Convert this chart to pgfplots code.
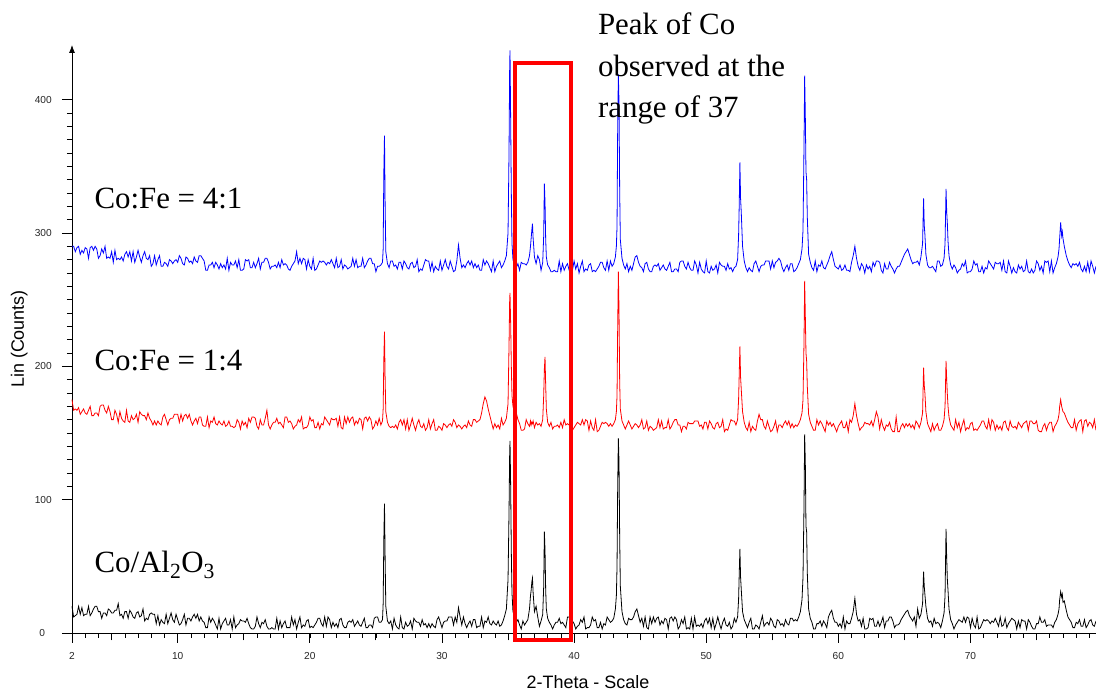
\documentclass[border=0pt]{standalone}
\usepackage{pgfplots}
\pgfplotsset{compat=1.18}
\usepackage{pgfplotstable}
\usetikzlibrary{arrows.meta}
\usepackage{fontspec}
\setmainfont{Liberation Serif}
\newfontfamily\arial{Liberation Sans}

\pgfplotstableread{
x k r b
2.000 20 175 290
2.125 12 167 290
2.250 13 168 286
2.375 14 167 289
2.500 20 169 290
2.625 14 164 284
2.750 19 166 287
2.875 13 168 285
3.000 14 165 289
3.125 14 164 288
3.250 20 167 281
3.375 13 170 289
3.500 15 163 290
3.625 18 163 287
3.750 20 165 290
3.875 20 165 288
4.000 16 163 281
4.125 16 170 283
4.250 11 171 288
4.375 15 171 285
4.500 15 167 290
4.625 13 165 281
4.750 18 170 282
4.875 17 166 281
5.000 15 160 286
5.125 15 160 278
5.250 17 167 287
5.375 17 164 280
5.500 22 158 281
5.625 13 166 280
5.750 14 161 282
5.875 11 159 279
6.000 16 158 284
6.125 16 167 286
6.250 11 159 282
6.375 17 158 286
6.500 15 163 279
6.625 12 160 286
6.750 11 161 278
6.875 15 164 282
7.000 16 158 287
7.125 12 166 282
7.250 13 164 278
7.375 18 163 283
7.500 9 163 286
7.625 11 160 281
7.750 10 165 280
7.875 14 161 283
8.000 15 159 275
8.125 14 156 277
8.250 14 159 283
8.375 7 156 276
8.500 13 159 280
8.625 6 157 283
8.750 10 156 275
8.875 8 162 275
9.000 7 164 278
9.125 14 160 277
9.250 7 156 275
9.375 11 160 280
9.500 15 161 279
9.625 10 161 277
9.750 8 164 279
9.875 14 164 280
10.000 10 164 278
10.125 6 158 283
10.250 7 164 281
10.375 10 159 277
10.500 14 163 276
10.625 6 164 282
10.750 11 161 281
10.875 11 164 278
11.000 9 159 279
11.125 12 156 277
11.250 14 159 282
11.375 11 161 279
11.500 14 157 278
11.625 9 162 283
11.750 12 162 283
11.875 9 156 281
12.000 8 155 279
12.125 4 155 272
12.250 4 162 272
12.375 12 154 276
12.500 8 159 276
12.625 11 158 278
12.750 9 162 274
12.875 6 157 278
13.000 3 156 276
13.125 11 159 273
13.250 3 157 277
13.375 7 156 274
13.500 9 159 276
13.625 11 155 273
13.750 6 156 281
13.875 6 159 272
14.000 10 155 278
14.125 3 155 276
14.250 12 154 276
14.375 4 155 279
14.500 6 160 274
14.625 7 158 280
14.750 10 153 272
14.875 9 159 272
15.000 9 156 273
15.125 8 158 280
15.250 11 154 279
15.375 7 161 280
15.500 4 158 274
15.625 3 162 274
15.750 3 162 278
15.875 5 161 274
16.000 12 155 277
16.125 7 153 281
16.250 4 160 273
16.375 8 156 278
16.500 7 156 278
16.625 10 161 281
16.750 5 167 281
16.875 3 156 278
17.000 3 153 273
17.125 4 156 275
17.250 3 158 275
17.375 3 158 276
17.500 11 161 274
17.625 3 157 278
17.750 9 158 274
17.875 4 156 280
18.000 7 154 276
18.125 9 162 277
18.250 4 162 276
18.375 4 158 273
18.500 4 159 272
18.625 12 157 275
18.750 6 153 277
18.875 10 155 279
19.000 3 156 286
19.125 8 160 277
19.250 12 158 281
19.375 4 162 277
19.500 6 153 281
19.625 5 154 280
19.750 9 154 273
19.875 10 156 280
20.000 4 162 275
20.125 5 159 273
20.250 4 160 281
20.375 6 154 272
20.500 8 154 273
20.625 11 158 276
20.750 11 153 279
20.875 7 157 278
21.000 5 156 279
21.125 12 162 278
21.250 5 160 276
21.375 12 158 278
21.500 10 156 277
21.625 4 161 280
21.750 8 160 277
21.875 5 160 274
22.000 7 161 281
22.125 4 155 274
22.250 10 162 275
22.375 11 154 280
22.500 6 153 273
22.625 4 162 276
22.750 4 157 275
22.875 8 162 273
23.000 9 158 274
23.125 8 161 275
23.250 10 162 281
23.375 5 156 275
23.500 7 159 280
23.625 9 157 274
23.750 6 161 275
23.875 5 160 275
24.000 8 153 281
24.125 11 161 274
24.250 4 162 276
24.375 4 159 279
24.500 6 162 281
24.625 6 160 281
24.750 4 153 277
24.875 11 155 277
25.000 12 159 271
25.125 12 156 275
25.250 8 161 275
25.375 8 156 276
25.500 10 159 278
25.550 22 168 288
25.600 70 205 345
25.650 97 226 373
25.700 55 190 320
25.750 20 166 286
25.875 9 158 277
26.000 7 155 274
26.125 9 154 279
26.250 3 155 279
26.375 11 154 275
26.500 6 156 276
26.625 4 153 273
26.750 3 158 278
26.875 12 160 278
27.000 4 156 273
27.125 3 160 279
27.250 8 153 277
27.375 5 160 274
27.500 6 152 273
27.625 9 156 277
27.750 3 161 278
27.875 11 156 274
28.000 9 152 275
28.125 8 157 280
28.250 8 160 271
28.375 5 155 273
28.500 10 154 272
28.625 6 157 276
28.750 7 152 280
28.875 4 154 279
29.000 7 160 279
29.125 4 153 272
29.250 7 157 278
29.375 5 160 271
29.500 4 152 275
29.625 10 152 273
29.750 12 155 272
29.875 8 154 279
30.000 4 152 272
30.125 8 157 276
30.250 9 156 280
30.375 9 154 275
30.500 12 156 273
30.625 12 157 279
30.750 12 155 275
30.875 6 160 271
31.000 12 158 272
31.125 8 154 279
31.250 19 156 291
31.375 12 155 281
31.500 6 153 274
31.625 12 155 276
31.750 7 156 274
31.875 4 154 277
32.000 7 159 279
32.125 9 156 276
32.250 5 155 279
32.375 10 160 274
32.500 10 160 277
32.625 4 158 274
32.750 5 159 276
32.875 5 160 272
33.000 12 165 272
33.125 4 172 280
33.250 9 177 276
33.375 8 174 279
33.500 12 168 277
33.625 7 163 274
33.750 6 158 271
33.875 9 153 279
34.000 7 157 271
34.125 6 154 275
34.250 9 156 277
34.375 5 153 279
34.500 6 161 274
34.625 9 156 276
34.750 13 158 279
34.875 18 161 283
35.000 40 172 300
35.075 90 215 360
35.125 135 250 425
35.150 144 255 437
35.200 110 232 385
35.250 60 200 330
35.300 30 178 292
35.375 16 170 280
35.500 12 172 276
35.625 8 165 274
35.750 10 160 277
35.875 6 157 272
36.000 3 152 278
36.125 9 152 277
36.250 6 153 277
36.375 8 160 276
36.500 10 157 278
36.625 18 155 283
36.700 28 159 290
36.750 32 156 296
36.800 38 158 302
36.850 41 157 307
36.900 30 159 296
37.000 16 154 282
37.125 20 158 277
37.250 12 156 283
37.375 5 157 280
37.500 9 155 272
37.625 14 160 278
37.700 35 178 298
37.750 76 198 337
37.800 62 207 323
37.850 32 186 295
37.900 18 168 282
38.000 11 158 276
38.125 8 155 274
38.250 6 158 271
38.375 3 153 271
38.500 6 155 272
38.625 8 155 271
38.750 8 156 271
38.875 11 154 279
39.000 7 158 271
39.125 8 154 277
39.250 6 160 272
39.375 4 156 275
39.500 12 157 277
39.625 12 156 272
39.750 8 153 272
39.875 9 152 272
40.000 7 154 279
40.125 3 156 273
40.250 5 158 277
40.375 6 157 270
40.500 10 156 275
40.625 8 160 279
40.750 12 156 271
40.875 3 160 273
41.000 4 159 272
41.125 4 152 276
41.250 6 159 277
41.375 12 154 271
41.500 9 152 272
41.625 10 160 271
41.750 4 151 273
41.875 4 152 275
42.000 8 155 278
42.125 3 158 278
42.250 7 157 274
42.375 6 158 272
42.500 12 157 279
42.625 10 155 272
42.750 8 157 279
42.875 9 155 275
43.000 11 157 277
43.125 18 160 282
43.200 28 166 290
43.250 50 178 305
43.300 110 230 380
43.350 146 271 419
43.400 128 242 398
43.450 72 188 332
43.500 35 168 295
43.625 16 159 281
43.750 10 156 276
43.875 7 153 273
44.000 6 156 277
44.125 11 159 271
44.250 10 156 275
44.375 10 153 272
44.500 12 155 277
44.625 16 157 282
44.750 18 156 283
44.875 13 154 278
45.000 8 156 275
45.125 11 160 274
45.250 5 153 271
45.375 12 154 277
45.500 4 159 278
45.625 3 152 273
45.750 12 155 271
45.875 7 154 271
46.000 12 152 275
46.125 8 153 276
46.250 11 154 275
46.375 12 160 277
46.500 6 154 272
46.625 9 159 274
46.750 7 153 276
46.875 11 154 273
47.000 10 154 272
47.125 3 160 275
47.250 11 153 278
47.375 12 155 271
47.500 9 158 271
47.625 12 160 273
47.750 10 160 273
47.875 3 156 271
48.000 5 156 278
48.125 10 151 279
48.250 7 155 279
48.375 12 155 275
48.500 3 153 273
48.625 4 158 278
48.750 3 157 274
48.875 11 157 272
49.000 3 157 272
49.125 12 159 279
49.250 5 159 276
49.375 6 159 270
49.500 5 155 278
49.625 7 156 273
49.750 4 153 271
49.875 9 158 270
50.000 11 158 279
50.125 7 153 271
50.250 11 159 270
50.375 4 157 275
50.500 11 154 272
50.625 3 153 273
50.750 7 157 276
50.875 12 158 270
51.000 7 154 278
51.125 3 155 276
51.250 8 160 275
51.375 11 151 275
51.500 6 153 272
51.625 5 152 277
51.750 8 156 273
51.875 3 160 274
52.000 5 159 271
52.125 11 159 274
52.250 8 156 275
52.375 12 160 280
52.450 25 175 298
52.500 45 195 322
52.550 63 215 353
52.600 42 192 326
52.650 33 183 316
52.750 16 166 290
52.875 10 158 279
53.000 7 154 274
53.125 4 152 271
53.250 8 158 274
53.375 11 151 272
53.500 3 155 271
53.625 3 153 277
53.750 6 152 279
53.875 5 159 275
54.000 3 164 271
54.125 8 160 275
54.250 13 160 276
54.375 5 155 276
54.500 7 153 279
54.625 8 159 279
54.750 6 155 279
54.875 11 151 273
55.000 9 152 279
55.125 5 155 274
55.250 4 159 278
55.375 10 151 279
55.500 9 156 281
55.625 6 156 279
55.750 7 154 274
55.875 5 157 271
56.000 10 159 274
56.125 7 156 276
56.250 6 159 272
56.375 11 154 277
56.500 11 157 277
56.625 9 154 271
56.750 10 156 272
56.875 9 155 274
57.000 12 157 277
57.125 16 160 280
57.250 25 165 288
57.325 42 175 302
57.400 95 218 365
57.450 149 264 418
57.500 128 238 388
57.550 80 210 346
57.600 76 204 340
57.650 45 185 312
57.750 18 164 284
57.875 11 158 278
58.000 8 155 274
58.125 3 152 272
58.250 3 152 279
58.375 7 160 271
58.500 7 156 276
58.625 9 159 275
58.750 5 157 279
58.875 9 154 274
59.000 7 151 273
59.125 4 159 276
59.250 12 156 279
59.375 15 158 283
59.500 17 155 286
59.625 11 157 280
59.750 8 154 275
59.875 8 151 274
60.000 5 155 273
60.125 7 157 276
60.250 4 159 272
60.375 12 154 273
60.500 3 154 276
60.625 9 158 272
60.750 7 151 272
60.875 7 160 271
61.000 11 158 278
61.125 16 163 283
61.250 26 172 290
61.375 14 163 281
61.500 9 157 275
61.625 10 152 272
61.750 5 154 277
61.875 11 155 275
62.000 3 158 270
62.125 3 157 276
62.250 4 157 273
62.375 11 156 275
62.500 10 159 271
62.625 11 155 278
62.750 5 160 275
62.875 5 166 279
63.000 9 162 279
63.125 5 153 278
63.250 8 160 272
63.375 12 155 270
63.500 4 152 277
63.625 9 156 273
63.750 9 155 273
63.875 12 158 278
64.000 12 153 275
64.125 9 151 273
64.250 4 151 270
64.375 6 162 273
64.500 6 151 275
64.625 7 151 275
64.750 10 155 278
64.875 12 157 281
65.000 14 154 284
65.125 16 157 286
65.250 17 155 288
65.375 13 157 284
65.500 11 154 280
65.625 9 156 277
65.750 12 153 278
65.875 5 159 278
66.000 18 157 279
66.125 11 154 276
66.250 14 158 282
66.375 22 165 292
66.450 46 199 326
66.500 35 186 306
66.550 29 180 299
66.625 20 166 284
66.750 11 157 276
66.875 8 154 274
67.000 9 151 274
67.125 5 157 275
67.250 11 152 273
67.375 7 155 271
67.500 8 157 279
67.625 7 152 279
67.750 4 152 275
67.875 9 155 276
68.000 15 160 281
68.075 28 170 292
68.150 78 204 333
68.200 56 190 316
68.250 40 179 307
68.300 32 170 294
68.375 18 162 283
68.500 10 156 276
68.625 7 154 273
68.750 3 152 276
68.875 6 160 274
69.000 8 154 270
69.125 10 158 272
69.250 9 151 273
69.375 8 156 277
69.500 12 160 275
69.625 8 152 279
69.750 12 154 270
69.875 11 153 271
70.000 4 157 271
70.125 11 158 273
70.250 6 152 279
70.375 4 153 276
70.500 12 152 277
70.625 3 154 271
70.750 4 156 271
70.875 7 159 275
71.000 10 159 270
71.125 9 155 274
71.250 10 153 273
71.375 9 160 279
71.500 7 153 277
71.625 9 160 275
71.750 8 158 273
71.875 11 152 278
72.000 8 156 277
72.125 5 153 277
72.250 12 155 278
72.375 5 152 272
72.500 6 158 279
72.625 11 159 271
72.750 4 154 270
72.875 7 152 279
73.000 9 159 275
73.125 11 155 270
73.250 10 154 274
73.375 9 155 271
73.500 3 153 270
73.625 9 158 276
73.750 4 156 273
73.875 10 154 275
74.000 9 157 271
74.125 9 158 272
74.250 3 159 279
74.375 10 152 271
74.500 8 159 270
74.625 5 159 273
74.750 3 157 270
74.875 3 157 272
75.000 7 159 279
75.125 7 152 277
75.250 12 151 272
75.375 8 151 275
75.500 8 155 270
75.625 10 157 279
75.750 5 152 278
75.875 6 156 279
76.000 6 158 271
76.125 6 158 279
76.250 4 151 270
76.375 8 155 274
76.500 10 157 277
76.625 14 160 282
76.700 18 164 288
76.750 25 170 296
76.825 31 175 308
76.900 27 170 298
76.950 29 168 301
77.000 23 166 296
77.100 24 165 290
77.250 17 161 283
77.375 12 158 279
77.500 10 156 276
77.625 8 154 274
77.750 4 154 277
77.875 4 160 276
78.000 8 152 277
78.125 7 157 275
78.250 10 159 278
78.375 5 160 273
78.500 5 151 271
78.625 10 159 275
78.750 4 160 271
78.875 6 155 278
79.000 9 158 271
79.125 10 157 279
79.250 6 154 275
79.375 5 160 270
79.500 9 152 275
}\xrd

\begin{document}
\begin{tikzpicture}
\begin{axis}[
  scale only axis,
  width=1024bp, height=588bp,
  xmin=2, xmax=79.5, ymin=0, ymax=441,
  axis x line*=bottom, axis y line*=left,
  x axis line style={-},
  y axis line style={-{Latex[length=8bp,width=6bp]}},
  tick align=outside,
  major tick length=10bp, minor tick length=5bp,
  xtick={2,10,20,30,40,50,60,70},
  minor xtick={3,...,79},
  extra x ticks={5,15,25,35,45,55,65,75},
  extra x tick labels={},
  extra x tick style={major tick length=7.5bp},
  ytick={100,200,300,400},
  minor y tick num=9,
  extra y ticks={0},
  extra y tick style={yticklabel style={xshift=-6.7bp}},
  tick style={black, line width=0.8bp},
  minor tick style={line width=0.6bp},
  axis line style={line width=0.8bp},
  /pgf/number format/assume math mode=true,
  ticklabel style={font=\arial\fontsize{10.2}{12}\selectfont, text=black!85},
  xticklabel style={yshift=-6.4bp},
  yticklabel style={xshift=-6.7bp},
  xlabel={2-Theta - Scale},
  ylabel={Lin (Counts)},
  label style={font=\arial\fontsize{18}{20}\selectfont},
  xlabel style={at={(axis description cs:0.5039,-0.0952)}, anchor=base},
  ylabel style={at={(axis description cs:-0.0469,0.5)}, anchor=base},
  clip=false,
]
\addplot[black, line width=0.8bp] table[x=x, y=k]{\xrd};
\addplot[red, line width=0.8bp] table[x=x, y=r]{\xrd};
\addplot[blue, line width=0.8bp] table[x=x, y=b]{\xrd};

\draw[red, line width=4bp] (axis cs:35.5,-5.3) rectangle (axis cs:39.75,427.8);

\node[anchor=base west, font=\fontsize{31}{31}\selectfont, inner sep=0pt] at (axis cs:3.69,318) {Co:Fe = 4:1};
\node[anchor=base west, font=\fontsize{31}{31}\selectfont, inner sep=0pt] at (axis cs:3.69,196.6) {Co:Fe = 1:4};
\node[anchor=base west, font=\fontsize{31}{31}\selectfont, inner sep=0pt] at (axis cs:3.69,45) {Co/Al\textsubscript{2}O\textsubscript{3}};

\node[anchor=base west, font=\fontsize{31}{31}\selectfont, inner sep=0pt] at (axis cs:41.8,448.8) {Peak of Co};
\node[anchor=base west, font=\fontsize{31}{31}\selectfont, inner sep=0pt] at (axis cs:41.8,417.0) {observed at the};
\node[anchor=base west, font=\fontsize{31}{31}\selectfont, inner sep=0pt] at (axis cs:41.8,386.3) {range of 37};

\coordinate (ll) at (rel axis cs:0,0);
\coordinate (ur) at (rel axis cs:1,1);
\end{axis}
\pgfresetboundingbox
\path[use as bounding box] ([xshift=-72bp,yshift=-59bp]ll) rectangle ([yshift=45bp]ur);
\end{tikzpicture}
\end{document}
